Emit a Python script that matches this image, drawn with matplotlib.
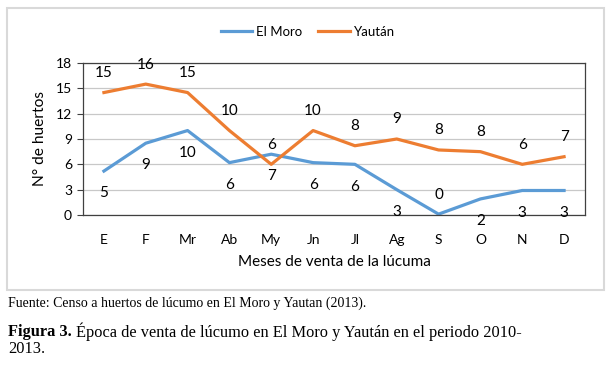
import math
import matplotlib
matplotlib.use("Agg")
import matplotlib.pyplot as plt
from matplotlib.patches import Rectangle

meses = ["E", "F", "Mr", "Ab", "My", "Jn", "Jl", "Ag", "S", "O", "N", "D"]
el_moro = [5.2, 8.5, 10.0, 6.2, 7.2, 6.2, 6.0, 3.0, 0.1, 1.9, 2.9, 2.9]
yautan = [14.5, 15.5, 14.5, 10.0, 6.0, 10.0, 8.2, 9.0, 7.7, 7.5, 6.0, 6.9]
yticks = [0, 3, 6, 9, 12, 15, 18]

azul = "#5B9BD5"
naranja = "#ED7D31"
fuente = "Lato"

fig = plt.figure(figsize=(6.13, 3.75), dpi=100)
ax = fig.add_axes([0.1354, 0.4267, 0.8189, 0.4053])

# marco exterior del grafico
fig.patches.append(Rectangle((7 / 613, 1 - 290 / 375), 597 / 613, 282 / 375,
                             transform=fig.transFigure, fill=False,
                             edgecolor="#D9D9D9", linewidth=1.5))

x = list(range(len(meses)))
ax.plot(x, el_moro, color=azul, lw=2.3, label="El Moro", solid_joinstyle="round")
ax.plot(x, yautan, color=naranja, lw=2.3, label="Yaután", solid_joinstyle="round")

for i in x:
    ax.annotate(str(math.floor(yautan[i] + 0.5)), (i, yautan[i]), xytext=(0, 9),
                textcoords="offset points", ha="center", va="bottom",
                fontsize=11, family=fuente)
    # cuando el punto toca el eje, la etiqueta va arriba
    arriba = el_moro[i] < 1
    ax.annotate(str(math.floor(el_moro[i] + 0.5)), (i, el_moro[i]),
                xytext=(0, 9 if arriba else -11), textcoords="offset points",
                ha="center", va="bottom" if arriba else "top",
                fontsize=11, family=fuente)

ax.set_xlim(-0.5, len(meses) - 0.5)
ax.set_ylim(0, 18)
ax.set_yticks(yticks)
ax.set_xticks(x)
ax.set_xticklabels(meses, family=fuente, fontsize=10)
ax.set_yticklabels([str(t) for t in yticks], family=fuente, fontsize=10)
ax.tick_params(axis="x", length=0, pad=14)
ax.tick_params(axis="y", length=4, width=0.8, color="#404040", pad=4)
ax.grid(axis="y", color="#C8C8C8", lw=0.9)
ax.set_axisbelow(True)
for s in ax.spines.values():
    s.set_color("#404040")
    s.set_linewidth(0.9)

ax.set_ylabel("N° de huertos", family=fuente, fontsize=11.2, labelpad=6)
ax.set_xlabel("Meses de venta de la lúcuma", family=fuente, fontsize=11, labelpad=6)

h, l = ax.get_legend_handles_labels()
fig.legend(h, l, loc="center", bbox_to_anchor=(0.502, 1 - 32 / 375), ncol=2, frameon=False,
           prop={"family": fuente, "size": 9.5}, handlelength=2.4, columnspacing=1.2,
           handletextpad=0.3)

fig.text(8 / 613, 1 - 303 / 375, "Fuente: Censo a huertos de lúcumo en El Moro y Yautan (2013).",
         family="Liberation Serif", fontsize=10, va="center")
t1 = fig.text(8 / 613, 1 - 332 / 375, "Figura 3.", family="Liberation Serif",
              fontsize=11.8, fontweight="bold", va="center")
fig.canvas.draw()
bb = t1.get_window_extent()
fig.text(bb.x1 / fig.bbox.width + 0.007, 1 - 332 / 375,
         "Época de venta de lúcumo en El Moro y Yaután en el periodo 2010-",
         family="Liberation Serif", fontsize=11.8, va="center")
fig.text(8 / 613, 1 - 349 / 375, "2013.", family="Liberation Serif",
         fontsize=11.8, va="center")

fig.savefig("out.png", dpi=100)
